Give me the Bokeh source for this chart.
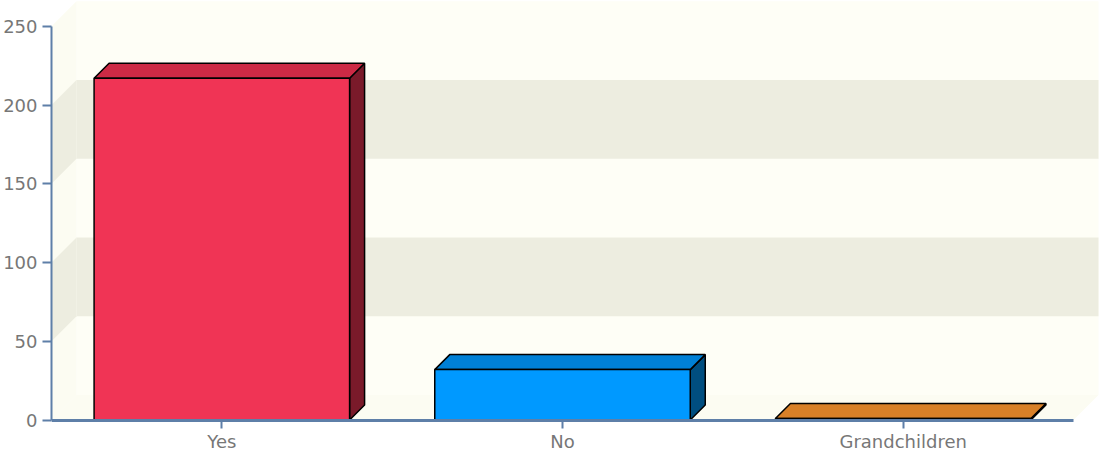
from bokeh.plotting import figure
from bokeh.models import Range1d, FixedTicker, ColumnDataSource
from bokeh.embed import file_html
from bokeh.resources import INLINE

# ---- data ----
categories = ["Yes", "No", "Grandchildren"]
counts = [217, 32, 1]
front_colors = ["#F03455", "#0099FF", "#D98030"]
top_colors = ["#CC2A45", "#0080D6", "#D88028"]
side_colors = ["#7A1A2A", "#004E80", "#6E4010"]
y_ticks = [0, 50, 100, 150, 200, 250]
band_ranges = [(50, 100), (150, 200)]

# ---- layout constants ----
W, H = 1099, 453
LEFT = 51
FRAME_W = W - LEFT
CAT_PX = 1022 / 3.0        # pixels per category
ZERO_PX = 419.5            # pixel row of value 0 from top of figure
Y_PX = 1.575               # pixels per value unit
BAR_DEPTH_PX = 15
WALL_DEPTH_PX = 25
BAR_FRAC = 0.75

n = len(categories)
ymax = y_ticks[-1]
x_end = FRAME_W / CAT_PX
y_start = -(H - ZERO_PX) / Y_PX
y_end = ZERO_PX / Y_PX

bdx, bdy = BAR_DEPTH_PX / CAT_PX, BAR_DEPTH_PX / Y_PX
wdx, wdy = WALL_DEPTH_PX / CAT_PX, WALL_DEPTH_PX / Y_PX

WALL = "#FEFEF6"
SIDE_WALL = "#FCFCF2"
BAND = "#EDEDE0"
AXIS = "#5E7FA8"
LABEL = "#777777"

p = figure(width=W, height=H, x_range=Range1d(0, x_end), y_range=Range1d(y_start, y_end),
           output_backend="svg", toolbar_location=None,
           min_border=0, min_border_left=LEFT)
p.background_fill_color = "white"
p.border_fill_color = "white"
p.outline_line_color = None
p.grid.visible = False

# back wall, left wall, floor
p.quad(left=wdx, right=n + wdx, bottom=wdy, top=ymax + wdy, fill_color=WALL, line_color=None)
p.patch([0, wdx, wdx, 0], [0, wdy, ymax + wdy, ymax], fill_color=SIDE_WALL, line_color=None)
p.patch([0, n, n + wdx, wdx], [0, 0, wdy, wdy], fill_color=SIDE_WALL, line_color=None)

# bands
for b, t in band_ranges:
    p.quad(left=wdx, right=n + wdx, bottom=b + wdy, top=t + wdy, fill_color=BAND, line_color=None)
    p.patch([0, wdx, wdx, 0], [b, b + wdy, t + wdy, t], fill_color=BAND, line_color=None)

# bars
centers = [i + 0.5 for i in range(n)]
hw = BAR_FRAC / 2
front_src = ColumnDataSource(dict(left=[c - hw for c in centers], right=[c + hw for c in centers],
                                  top=counts, bottom=[0] * n, color=front_colors))
top_src = ColumnDataSource(dict(
    xs=[[c - hw, c + hw, c + hw + bdx, c - hw + bdx] for c in centers],
    ys=[[v, v, v + bdy, v + bdy] for v in counts],
    color=top_colors))
side_src = ColumnDataSource(dict(
    xs=[[c + hw, c + hw + bdx, c + hw + bdx, c + hw] for c in centers],
    ys=[[0, bdy, v + bdy, v] for v in counts],
    color=side_colors))

p.patches("xs", "ys", source=side_src, fill_color="color", line_color="black", line_width=1.5)
p.patches("xs", "ys", source=top_src, fill_color="color", line_color="black", line_width=1.5)
p.quad(left="left", right="right", top="top", bottom="bottom", source=front_src,
       fill_color="color", line_color="black", line_width=1.5)

# y axis
ya = p.yaxis[0]
ya.ticker = FixedTicker(ticks=y_ticks)
ya.bounds = (0, ymax)
ya.minor_tick_line_color = None
ya.major_tick_in = 0
ya.major_tick_out = 9
ya.major_label_standoff = 5
ya.axis_line_color = AXIS
ya.axis_line_width = 2
ya.major_tick_line_color = AXIS
ya.major_tick_line_width = 2
ya.major_label_text_font = "DejaVu Sans"
ya.major_label_text_font_size = "18px"
ya.major_label_text_color = LABEL

# x axis
xa = p.xaxis[0]
xa.ticker = FixedTicker(ticks=centers)
xa.major_label_overrides = {c: lab for c, lab in zip(centers, categories)}
xa.bounds = (0, n)
xa.fixed_location = 0
xa.minor_tick_line_color = None
xa.major_tick_in = 0
xa.major_tick_out = 8
xa.major_label_standoff = 3
xa.axis_line_color = AXIS
xa.axis_line_width = 3
xa.major_tick_line_color = AXIS
xa.major_tick_line_width = 2
xa.major_label_text_font = "DejaVu Sans"
xa.major_label_text_font_size = "18px"
xa.major_label_text_color = LABEL

open("out.html", "w").write(file_html(p, INLINE))
